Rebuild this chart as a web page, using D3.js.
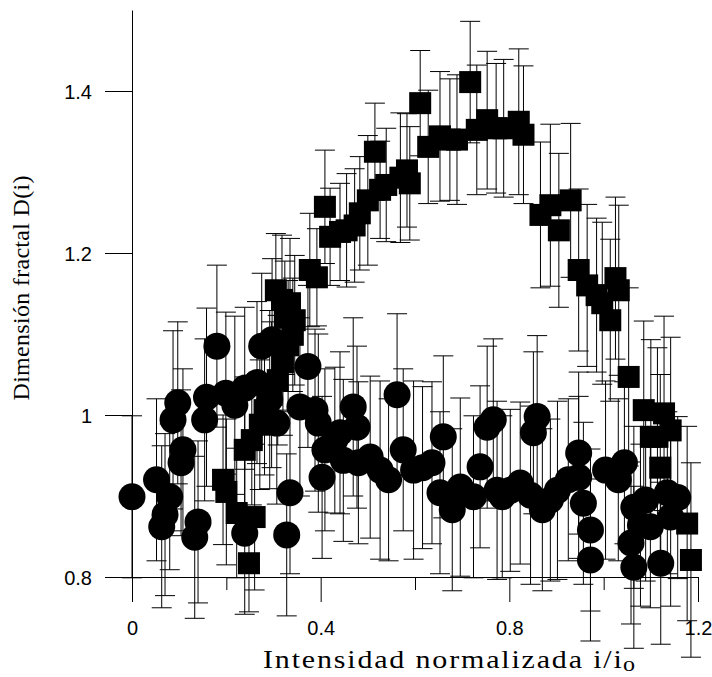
<!DOCTYPE html>
<html>
<head>
<meta charset="utf-8">
<script src="https://cdn.jsdelivr.net/npm/d3@7"></script>
<style>
  body { margin: 0; background: #fff; }
  svg { display: block; }
</style>
</head>
<body>
<div class="chart-container"></div>
<script>
// squares series: x, D(i), error
const squareX = [0.193,0.200,0.222,0.239,0.248,0.254,0.260,0.271,0.281,0.296,0.305,0.309,0.318,0.320,0.324,0.331,0.335,0.341,0.345,0.377,0.392,0.409,0.420,0.441,0.455,0.472,0.483,0.500,0.515,0.526,0.539,0.569,0.583,0.589,0.611,0.628,0.653,0.674,0.689,0.717,0.731,0.753,0.772,0.788,0.820,0.830,0.866,0.887,0.905,0.930,0.947,0.965,0.985,0.997,1.014,1.025,1.032,1.053,1.085,1.100,1.114,1.120,1.128,1.142,1.177,1.185];
const squareY = [0.920,0.905,0.879,0.957,0.817,0.969,0.874,0.988,1.006,1.025,1.154,1.043,1.142,1.065,1.120,1.086,1.138,1.099,1.117,1.179,1.170,1.257,1.220,1.226,1.228,1.234,1.249,1.265,1.325,1.278,1.284,1.293,1.302,1.286,1.385,1.331,1.344,1.340,1.340,1.411,1.352,1.364,1.354,1.354,1.362,1.346,1.247,1.259,1.228,1.265,1.179,1.160,1.148,1.138,1.117,1.169,1.154,1.047,1.006,0.973,0.973,0.935,1.002,0.981,0.866,0.821];
const squareErr = [0.08,0.09,0.08,0.09,0.06,0.08,0.09,0.08,0.08,0.09,0.07,0.08,0.08,0.09,0.07,0.08,0.08,0.07,0.08,0.07,0.06,0.07,0.06,0.06,0.07,0.07,0.07,0.08,0.06,0.06,0.07,0.08,0.07,0.07,0.065,0.07,0.08,0.075,0.08,0.075,0.08,0.085,0.08,0.085,0.09,0.085,0.09,0.1,0.095,0.095,0.1,0.1,0.095,0.1,0.1,0.1,0.105,0.11,0.11,0.12,0.11,0.115,0.12,0.115,0.12,0.12];

// circles series
const circleX = [0.000,0.052,0.080,0.070,0.063,0.097,0.087,0.108,0.104,0.140,0.133,0.158,0.154,0.180,0.199,0.218,0.239,0.239,0.265,0.275,0.297,0.292,0.307,0.335,0.328,0.356,0.373,0.388,0.395,0.403,0.409,0.430,0.441,0.448,0.469,0.477,0.480,0.505,0.526,0.544,0.562,0.575,0.597,0.616,0.636,0.660,0.653,0.679,0.696,0.724,0.738,0.753,0.766,0.774,0.785,0.802,0.823,0.845,0.859,0.851,0.870,0.887,0.902,0.925,0.947,0.947,0.957,0.972,0.972,1.004,1.031,1.044,1.064,1.058,1.064,1.099,1.121,1.135,1.142,1.089,1.078,1.157];
const circleY = [0.899,0.920,0.899,0.877,0.862,1.015,0.994,0.957,0.941,0.868,0.849,1.022,0.994,1.085,1.027,1.012,1.033,0.854,1.040,1.085,1.093,1.019,0.990,0.904,0.852,1.010,1.060,1.006,0.990,0.923,0.957,0.969,0.978,0.944,1.010,0.985,0.941,0.948,0.932,0.920,1.025,0.957,0.932,0.935,0.941,0.973,0.904,0.883,0.911,0.899,0.936,0.985,0.994,0.907,0.899,0.907,0.916,0.901,0.998,0.978,0.883,0.895,0.907,0.920,0.953,0.923,0.891,0.858,0.821,0.932,0.920,0.941,0.886,0.842,0.812,0.862,0.817,0.904,0.874,0.895,0.864,0.898];
const circleErr = [0.10,0.10,0.09,0.10,0.10,0.10,0.11,0.10,0.09,0.10,0.10,0.11,0.10,0.10,0.10,0.11,0.10,0.10,0.10,0.09,0.10,0.11,0.10,0.10,0.10,0.11,0.10,0.10,0.11,0.10,0.10,0.09,0.10,0.10,0.11,0.10,0.10,0.10,0.11,0.10,0.10,0.10,0.11,0.10,0.10,0.10,0.10,0.10,0.11,0.10,0.10,0.10,0.10,0.11,0.10,0.10,0.10,0.11,0.10,0.10,0.10,0.10,0.11,0.10,0.10,0.10,0.10,0.10,0.10,0.11,0.10,0.10,0.10,0.10,0.10,0.10,0.10,0.10,0.11,0.10,0.10,0.10];

const xTicks = [0, 0.4, 0.8, 1.2];
const xMinorTicks = [0.2, 0.6, 1.0];
const yTicks = [0.8, 1, 1.2, 1.4];

const svg_width = 712;
const svg_height = 677;

const squares = squareX.map((d, i) => ({x: d, y: squareY[i], e: squareErr[i]}));
const circles = circleX.map((d, i) => ({x: d, y: circleY[i], e: circleErr[i]}));

const svg = d3.select('.chart-container')
  .append('svg')
  .attr('width', svg_width)
  .attr('height', svg_height);

//scale
const xScale = d3.scaleLinear([0, 1.2], [132, 698]);
const yScale = d3.scaleLinear([0.8, 1.5], [577, 10]);

const tickFont = "'Liberation Sans', Arial, sans-serif";
const titleFont = "'Liberation Serif', 'Times New Roman', serif";

// axes
const yAxis = d3.axisLeft(yScale)
  .tickValues(yTicks)
  .tickFormat(d => String(d))
  .tickSizeInner(27)
  .tickSizeOuter(0)
  .tickPadding(13);
const yAxisDraw = svg.append('g')
  .attr('class', 'y axis')
  .attr('transform', `translate(${xScale(0)},0)`)
  .call(yAxis);

const xAxis = d3.axisBottom(xScale)
  .tickValues(xTicks)
  .tickFormat(d => String(d))
  .tickSizeInner(25)
  .tickSizeOuter(0)
  .tickPadding(19);
const xAxisDraw = svg.append('g')
  .attr('class', 'x axis')
  .attr('transform', `translate(0,${yScale(0.8)})`)
  .call(xAxis);

const xMinor = d3.axisBottom(xScale)
  .tickValues(xMinorTicks)
  .tickFormat('')
  .tickSizeInner(13)
  .tickSizeOuter(0);
svg.append('g')
  .attr('class', 'x minor')
  .attr('transform', `translate(0,${yScale(0.8)})`)
  .call(xMinor)
  .call(g => g.select('.domain').remove());

svg.selectAll('.axis text')
  .style('font-family', tickFont)
  .style('font-size', '20px')
  .attr('fill', '#000');
yAxisDraw.selectAll('text').attr('dy', '0.38em');
svg.selectAll('.axis path, .axis line, .minor line')
  .attr('stroke', '#000');

// error bars
function drawErrors(data, cls) {
  const g = svg.append('g').attr('class', cls);
  const bars = g.selectAll('g')
    .data(data)
    .join('g')
    .attr('stroke', '#000')
    .attr('stroke-width', 1);
  bars.append('line')
    .attr('x1', d => xScale(d.x))
    .attr('x2', d => xScale(d.x))
    .attr('y1', d => yScale(d.y - d.e))
    .attr('y2', d => yScale(d.y + d.e));
  bars.append('line')
    .attr('x1', d => xScale(d.x) - 10)
    .attr('x2', d => xScale(d.x) + 10)
    .attr('y1', d => yScale(d.y + d.e))
    .attr('y2', d => yScale(d.y + d.e));
  bars.append('line')
    .attr('x1', d => xScale(d.x) - 10)
    .attr('x2', d => xScale(d.x) + 10)
    .attr('y1', d => yScale(d.y - d.e))
    .attr('y2', d => yScale(d.y - d.e));
}
drawErrors(squares, 'sq-err');
drawErrors(circles, 'ci-err');

// markers
const sq = 22;
svg.append('g')
  .selectAll('rect')
  .data(squares)
  .join('rect')
  .attr('x', d => xScale(d.x) - sq / 2)
  .attr('y', d => yScale(d.y) - sq / 2)
  .attr('width', sq)
  .attr('height', sq)
  .attr('fill', '#000');

svg.append('g')
  .selectAll('circle')
  .data(circles)
  .join('circle')
  .attr('cx', d => xScale(d.x))
  .attr('cy', d => yScale(d.y))
  .attr('r', 13.5)
  .attr('fill', '#000');

// axis titles
svg.append('text')
  .attr('transform', 'translate(29,288) rotate(-90)')
  .attr('text-anchor', 'middle')
  .attr('textLength', 225)
  .attr('lengthAdjust', 'spacing')
  .style('font-family', titleFont)
  .style('font-size', '24px')
  .text('Dimensión fractal D(i)');

// x title: glyphs slightly wider than normal in the original
const xTitle = svg.append('g')
  .attr('transform', 'translate(263,668) scale(1.2,1)');
xTitle.append('text')
  .attr('x', 0)
  .attr('y', 0)
  .attr('textLength', 299)
  .attr('lengthAdjust', 'spacing')
  .style('font-family', titleFont)
  .style('font-size', '25px')
  .text('Intensidad normalizada i/i');
xTitle.append('text')
  .attr('x', 300)
  .attr('y', 3)
  .style('font-family', titleFont)
  .style('font-size', '20px')
  .text('o');
</script>
</body>
</html>
